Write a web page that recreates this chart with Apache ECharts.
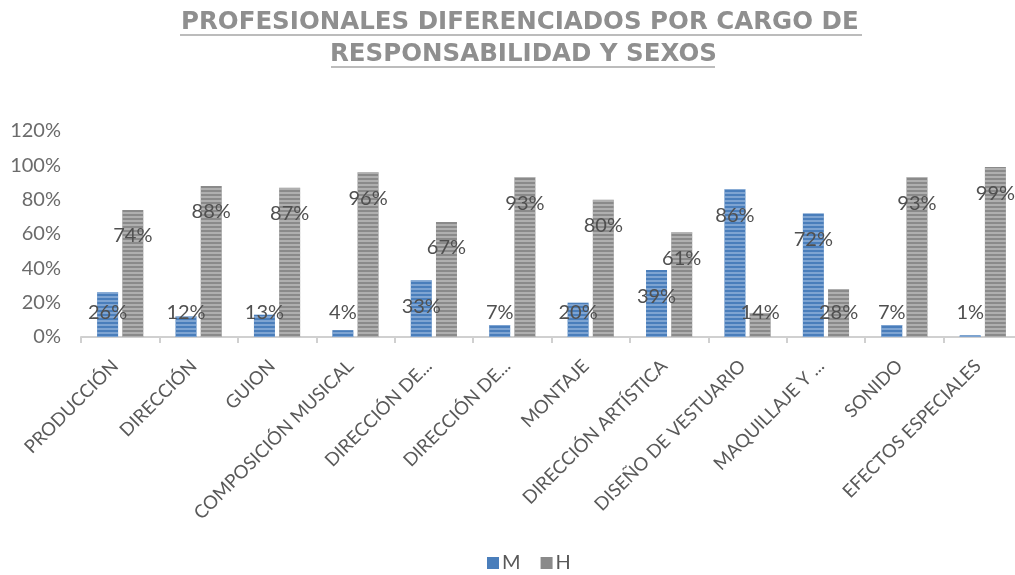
<!DOCTYPE html>
<html>
<head>
<meta charset="utf-8">
<script src="https://cdn.jsdelivr.net/npm/echarts@6/dist/echarts.min.js"></script>
<style>html,body{margin:0;padding:0;background:#fff}#c{width:1015px;height:575px}</style>
</head>
<body>
<div id="c"></div>
<script>
const titleLines = ['PROFESIONALES DIFERENCIADOS POR CARGO DE', 'RESPONSABILIDAD Y SEXOS'];
const categories = ['PRODUCCIÓN', 'DIRECCIÓN', 'GUION', 'COMPOSICIÓN MUSICAL', 'DIRECCIÓN DE...', 'DIRECCIÓN DE...', 'MONTAJE', 'DIRECCIÓN ARTÍSTICA', 'DISEÑO DE VESTUARIO', 'MAQUILLAJE Y ...', 'SONIDO', 'EFECTOS ESPECIALES'];
const seriesNames = ['M', 'H'];
const valuesM = [0.26, 0.12, 0.13, 0.04, 0.33, 0.07, 0.20, 0.39, 0.86, 0.72, 0.07, 0.01];
const valuesH = [0.74, 0.88, 0.87, 0.96, 0.67, 0.93, 0.80, 0.61, 0.14, 0.28, 0.93, 0.99];
const yTicks = { min: 0, max: 1.2, interval: 0.2 };

const FONT = 'Lato, "Open Sans", sans-serif';
const pct = v => Math.round(v * 100) + '%';

function mkData(vals) {
  return vals.map(v => ({
    value: v,
    label: v >= 0.30
      ? { position: 'insideTop', distance: 16 }
      : { position: 'insideBottom', distance: 14 }
  }));
}

function stripeDecal(c) {
  return { symbol: 'rect', symbolSize: 1, dashArrayX: [[1, 0]], dashArrayY: [1.5, 1.5], color: c, rotation: 0 };
}

const titleStyle = { fontFamily: '"DejaVu Sans", sans-serif', fontWeight: 'bold', fontSize: 24.5, color: '#8f8f8f' };

const chart = echarts.init(document.getElementById('c'), null, { renderer: 'canvas' });
chart.setOption({
  animation: false,
  backgroundColor: '#fff',
  title: [
    { text: titleLines[0], left: 176, top: 5, textStyle: titleStyle },
    { text: titleLines[1], left: 325, top: 37, textStyle: titleStyle }
  ],
  graphic: [
    { type: 'line', shape: { x1: 180, y1: 35, x2: 862, y2: 35 }, style: { stroke: '#a6a6a6', lineWidth: 1.5 } },
    { type: 'line', shape: { x1: 331, y1: 67, x2: 715, y2: 67 }, style: { stroke: '#a6a6a6', lineWidth: 1.5 } }
  ],
  legend: {
    bottom: -3,
    left: 482,
    icon: 'rect',
    itemWidth: 12,
    itemHeight: 12,
    itemGap: 20,
    data: seriesNames,
    itemStyle: { decal: { symbol: 'rect', color: 'rgba(0,0,0,0)' } },
    textStyle: { fontFamily: FONT, fontSize: 20, color: '#595959', padding: [0, 0, 0, -2] }
  },
  grid: { left: 81, width: 941, top: 131, bottom: 238, containLabel: false, outerBoundsMode: 'none' },
  xAxis: {
    type: 'category',
    data: categories,
    axisLine: { lineStyle: { color: '#d0d0d0', width: 2 } },
    axisTick: { show: true, alignWithLabel: false, length: 6, lineStyle: { color: '#d0d0d0', width: 2 } },
    axisLabel: { interval: 0, rotate: 45, fontFamily: FONT, fontSize: 18.5, color: '#595959', margin: 21, padding: [0, 7, 0, 0] }
  },
  yAxis: {
    type: 'value',
    min: yTicks.min, max: yTicks.max, interval: yTicks.interval,
    splitLine: { show: false },
    axisLine: { show: false },
    axisTick: { show: false },
    axisLabel: { formatter: v => pct(v), fontFamily: FONT, fontSize: 20, color: '#6b6b6b', margin: 20 }
  },
  series: [
    {
      name: seriesNames[0], type: 'bar', data: mkData(valuesM), barWidth: 21, barGap: '20%',
      itemStyle: { color: '#4a7ebb', decal: stripeDecal('rgba(160,190,225,0.6)') },
      label: { show: true, formatter: p => pct(p.value), fontFamily: FONT, fontSize: 20, color: '#505050' }
    },
    {
      name: seriesNames[1], type: 'bar', data: mkData(valuesH), barWidth: 21, barGap: '20%',
      itemStyle: { color: '#8a8a8a', decal: stripeDecal('rgba(200,200,200,0.6)') },
      label: { show: true, formatter: p => pct(p.value), fontFamily: FONT, fontSize: 20, color: '#505050' }
    }
  ]
});
</script>
</body>
</html>
